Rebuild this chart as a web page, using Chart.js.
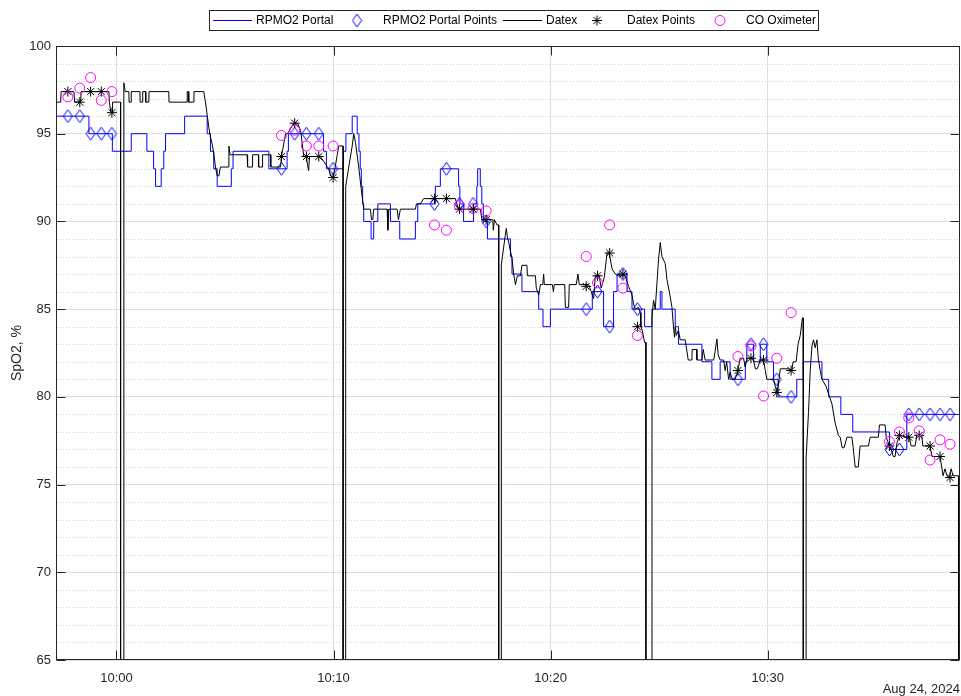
<!DOCTYPE html>
<html lang="en">
<head>
<meta charset="utf-8"/>
<title>SpO2 comparison</title>
<script src="https://cdn.jsdelivr.net/npm/chart.js"></script>
<style>
    body { margin: 0; background: #ffffff; }
    #spo2Chart { display: block; }
</style>
</head>
<body>
<canvas id="spo2Chart" width="961" height="696"></canvas>
<script>
// time axis is minutes after 10:00
const X_MIN = -2.74;
const X_MAX = 38.86;
const xTickValues = [0, 10, 20, 30];
const xTickLabels = ['10:00', '10:10', '10:20', '10:30'];
const yTickValues = [65, 70, 75, 80, 85, 90, 95, 100];

// RPMO2 portal readings (stairs: value starts at that minute)
const portalTime = [-2.74, -1.27, -0.19, 0.68, 1.40, 1.71, 1.80, 2.06, 2.18, 2.26, 3.14, 4.18, 4.33, 4.48, 4.64,
    5.29, 5.37, 7.02, 7.86, 7.92, 9.54, 9.67, 10.46, 10.57, 10.86, 11.09, 11.17, 11.23, 11.28, 11.34, 11.39,
    11.73, 11.85, 12.04, 12.62, 13.05, 13.77, 13.88, 14.69, 14.92, 15.76, 15.82, 15.99, 16.45, 16.60, 16.64,
    16.76, 16.83, 16.90, 17.09, 18.15, 18.22, 18.68, 19.45, 19.65, 19.99, 21.92, 22.44, 22.90, 23.06, 23.52,
    23.75, 24.33, 24.67, 25.05, 25.13, 25.74, 25.89, 26.97, 27.43, 27.81, 28.27, 28.97, 29.04, 29.35, 29.66,
    29.96, 30.27, 30.48, 31.34, 31.64, 32.50, 32.81, 33.37, 33.92, 35.61, 36.41, 38.86];
const portalSpO2 = [96, 95, 94, 95, 94, 93, 92, 93, 94, 95, 96, 95, 94, 93, 92,
    93, 94, 93, 94, 95, 94, 93, 94, 95, 96, 95, 94, 93, 92, 91, 90,
    89, 90, 91, 90, 89, 90, 91, 92, 93, 92, 91, 90, 91, 92, 93,
    92, 91, 90, 89, 88, 87, 86, 85, 84, 85, 86, 84, 86, 87, 86,
    85, 84, 85, 86, 85, 84, 83, 82, 81, 82, 81, 82, 83, 82, 83,
    82, 81, 80, 81, 82, 81, 80, 79, 78, 77, 79, 79];

// Datex monitor trace (0 = signal dropout)
const datexTime = [-2.74, -2.57, -2.55, -1.96, -1.93, -1.65, -1.63, -0.35, -0.33, -0.25, -0.20, -0.18, 0.19, 0.19,
    0.34, 0.34, 0.40, 0.57, 0.58, 0.67, 0.68, 1.08, 1.09, 1.20, 1.21, 1.34, 1.35, 1.49, 1.50, 2.41, 2.42,
    3.25, 3.26, 3.32, 3.33, 3.56, 3.57, 4.02, 4.10, 4.25, 4.33, 4.41, 4.48, 4.56, 4.64, 4.72, 4.79, 5.14,
    5.18, 5.23, 6.02, 6.04, 6.25, 6.27, 6.54, 6.55, 6.71, 6.73, 7.10, 7.11, 7.56, 7.60, 7.79, 7.88, 8.17,
    8.34, 8.48, 8.63, 8.75, 8.80, 8.85, 8.89, 9.32, 9.39, 9.78, 9.86, 9.98, 10.09, 10.17, 10.24, 10.44,
    10.44, 10.56, 10.56, 10.70, 10.86, 10.93, 11.01, 11.16, 11.27, 11.39, 11.70, 11.75, 11.81, 11.85, 12.07,
    12.47, 12.50, 12.55, 12.93, 12.99, 13.08, 13.77, 13.82, 14.00, 14.15, 15.61, 15.76, 16.76, 16.84, 17.34,
    17.36, 17.41, 17.53, 17.61, 17.61, 17.73, 17.73, 17.78, 17.91, 17.96, 18.01, 18.07, 18.15, 18.22, 18.30,
    18.38, 18.47, 18.61, 18.68, 18.91, 18.93, 19.30, 19.34, 19.45, 19.53, 19.64, 19.68, 19.71, 20.08, 20.13,
    20.17, 20.65, 20.68, 20.83, 20.86, 21.18, 21.26, 21.32, 21.75, 21.87, 21.98, 22.06, 22.24, 22.33, 22.47,
    22.60, 22.70, 22.83, 22.98, 23.12, 23.44, 23.59, 23.75, 23.82, 23.90, 24.05, 24.13, 24.16, 24.22, 24.33,
    24.39, 24.39, 24.67, 24.67, 24.74, 24.82, 24.90, 24.97, 25.05, 25.13, 25.28, 25.36, 25.51, 25.59, 25.66,
    25.71, 25.74, 25.79, 25.89, 25.97, 26.20, 26.34, 26.51, 26.52, 26.73, 26.74, 26.97, 27.03, 27.12, 27.51,
    27.58, 27.66, 27.72, 27.81, 27.97, 28.04, 28.11, 28.20, 28.27, 28.37, 28.50, 28.63, 28.73, 28.89, 28.96,
    29.06, 29.33, 29.43, 29.52, 29.66, 29.81, 29.89, 29.96, 30.27, 30.35, 30.42, 30.48, 30.58, 30.94, 31.11,
    31.17, 31.31, 31.40, 31.50, 31.60, 31.64, 31.64, 31.77, 31.77, 31.88, 31.96, 32.04, 32.11, 32.19, 32.27,
    32.33, 32.42, 32.50, 32.69, 32.96, 33.11, 33.26, 33.34, 33.43, 33.52, 33.65, 33.88, 33.94, 34.03, 34.17,
    34.26, 34.64, 34.72, 35.10, 35.15, 35.41, 35.46, 35.61, 35.69, 35.79, 35.87, 35.96, 36.07, 36.41, 36.52,
    36.61, 36.79, 36.87, 37.10, 37.15, 37.48, 37.57, 37.94, 38.08, 38.17, 38.26, 38.37, 38.45, 38.54, 38.79,
    38.80];
const datexSpO2 = [96.8, 96.8, 97.4, 97.4, 96.8, 96.8, 97.4, 97.4, 96.8, 96.2, 96.2, 96.8, 96.8, 0,
    0, 97.9, 97.4, 97.4, 96.8, 96.8, 97.4, 97.4, 96.8, 96.8, 97.4, 97.4, 96.8, 96.8, 97.4, 97.4, 96.8,
    96.8, 97.4, 97.4, 96.8, 96.8, 97.4, 97.4, 96.8, 95.4, 94.8, 94.4, 93.9, 93.1, 92.6, 92.6, 93.1, 93.1,
    94.3, 93.8, 93.8, 93.1, 93.1, 93.8, 93.8, 93.1, 93.1, 93.8, 93.8, 93.1, 93.1, 93.7, 95.0, 95.0, 95.6,
    95.6, 95.2, 93.7, 93.7, 93.2, 92.9, 93.7, 93.7, 93.7, 93.0, 92.6, 92.5, 93.2, 93.8, 94.3, 94.3,
    0, 0, 92.0, 93.1, 94.3, 95.0, 94.5, 93.1, 91.9, 90.7, 90.7, 90.1, 90.1, 90.7, 90.7,
    90.7, 89.5, 90.7, 90.7, 90.1, 90.7, 90.7, 91.0, 91.0, 91.3, 91.3, 90.7, 90.7, 90.1, 90.1,
    89.5, 90.1, 89.8, 89.8, 0, 0, 87.5, 88.0, 89.2, 89.6, 89.1, 88.8, 88.3, 87.9, 87.0,
    86.4, 86.9, 86.9, 87.5, 87.5, 86.9, 86.9, 86.2, 85.8, 86.4, 86.4, 87.0, 86.4, 86.4, 86.0,
    86.4, 86.4, 85.1, 85.1, 86.4, 86.4, 87.0, 86.4, 86.4, 86.0, 85.6, 86.9, 86.9, 86.2, 86.8,
    88.2, 88.2, 87.3, 87.0, 86.9, 86.9, 86.3, 85.8, 85.3, 85.0, 85.1, 84.8, 84.0, 83.8, 83.1,
    83.1, 0, 0, 84.5, 85.5, 85.0, 86.5, 87.8, 88.8, 88.0, 87.6, 86.7, 85.7, 85.1, 84.0,
    83.4, 84.0, 83.5, 83.8, 83.25, 83.25, 82.1, 82.1, 82.7, 82.7, 82.1, 82.1, 82.7, 82.1, 82.1,
    82.6, 83.3, 82.4, 82.1, 82.1, 81.5, 82.0, 81.0, 81.4, 81.0, 81.0, 81.5, 82.2, 82.2, 81.7,
    82.2, 82.2, 81.6, 81.6, 82.1, 82.1, 81.5, 81.0, 81.0, 80.6, 80.25, 80.6, 81.6, 81.6, 81.5,
    82.0, 82.0, 83.0, 83.5, 84.5, 84.5, 0, 0, 76.5, 79.1, 81.5, 82.9, 83.25, 82.8, 83.25,
    82.2, 81.5, 81.0, 80.6, 79.6, 78.5, 77.8, 77.7, 77.1, 77.1, 77.7, 77.7, 77.1, 76.0, 76.0,
    77.2, 77.2, 77.7, 77.7, 78.4, 78.4, 77.7, 77.2, 77.0, 76.6, 76.6, 77.4, 77.8, 77.7, 77.7,
    77.2, 77.2, 77.8, 77.8, 77.2, 77.2, 76.6, 76.6, 75.5, 75.9, 75.5, 75.4, 75.9, 75.5, 75.5,
    0];

// spot readings taken at the same moments
const sampleTime = [-2.24, -1.69, -1.19, -0.70, -0.21, 7.60, 8.21, 8.75, 9.32, 9.98,
    14.65, 15.20, 15.80, 16.43, 17.03, 21.64, 22.16, 22.72, 23.33, 24.00,
    28.63, 29.23, 29.81, 30.42, 31.08, 35.61, 36.07, 36.50, 36.98, 37.48, 37.94, 38.40];
const portalPoints = [96, 96, 95, 95, 95, 93, 95, 95, 95, 93,
    91, 93, 91, 91, 90, 85, 86, 84, 87, 85,
    81, 83, 83, 81, 80, 77, 77, 79, 79, 79, 79, 79];
const datexPoints = [97.4, 96.8, 97.4, 97.4, 96.2, 93.7, 95.6, 93.7, 93.7, 92.5,
    91.3, 91.3, 90.7, 90.7, 90.1, 86.3, 86.9, 88.2, 87.0, 84.0,
    81.5, 82.2, 82.1, 80.25, 81.5, 77.2, 77.8, 77.7, 77.8, 77.2, 76.6, 75.4];
const coOximeter = [97.1, 97.6, 98.2, 96.9, 97.4, 94.9, 95.2, 94.3, 94.3, 94.3,
    89.8, 89.5, 90.9, 90.75, 90.6, 88.0, 86.5, 89.8, 86.2, 83.5,
    82.3, 82.9, 80.05, 82.2, 84.8, 77.45, 78.0, 78.8, 78.06, 76.4, 77.55, 77.3];

const FONT = "'Liberation Sans', Arial, sans-serif";
const AXIS_COLOR = '#262626';

function pairs(xs, ys) {
    return xs.map((x, i) => ({ x: x, y: ys[i] }));
}

// tall open diamond like the MATLAB 'd' marker
function diamondMarker(color) {
    const c = document.createElement('canvas');
    c.width = 11;
    c.height = 15;
    const g = c.getContext('2d');
    g.strokeStyle = color;
    g.lineWidth = 1;
    g.beginPath();
    g.moveTo(5.5, 1);
    g.lineTo(10, 7.5);
    g.lineTo(5.5, 14);
    g.lineTo(1, 7.5);
    g.closePath();
    g.stroke();
    return c;
}

// minor dotted grid, inward ticks and the axes box
const axesFrame = {
    id: 'axesFrame',
    beforeDatasetsDraw(chart) {
        const { ctx, chartArea: a, scales: { y } } = chart;
        ctx.save();
        ctx.strokeStyle = '#d2d2d2';
        ctx.lineWidth = 1;
        ctx.setLineDash([1, 2]);
        for (let v = 66; v < 100; v++) {
            if (v % 5 === 0) continue;
            const py = Math.round(y.getPixelForValue(v)) + 0.5;
            ctx.beginPath();
            ctx.moveTo(a.left, py);
            ctx.lineTo(a.right, py);
            ctx.stroke();
        }
        ctx.restore();
    },
    afterDatasetsDraw(chart) {
        const { ctx, chartArea: a, scales: { x, y } } = chart;
        const L = Math.round(a.left) - 0.5, R = Math.round(a.right) - 0.5;
        const T = Math.round(a.top) + 0.5, B = Math.round(a.bottom) - 0.5;
        const tick = 9;
        ctx.save();
        ctx.strokeStyle = AXIS_COLOR;
        ctx.lineWidth = 1;
        ctx.beginPath();
        xTickValues.forEach(v => {
            const px = Math.round(x.getPixelForValue(v)) + 0.5;
            ctx.moveTo(px, B); ctx.lineTo(px, B - tick);
            ctx.moveTo(px, T); ctx.lineTo(px, T + tick);
        });
        yTickValues.forEach(v => {
            const py = Math.round(y.getPixelForValue(v)) + 0.5;
            ctx.moveTo(L, py); ctx.lineTo(L + tick, py);
            ctx.moveTo(R, py); ctx.lineTo(R - tick, py);
        });
        ctx.stroke();
        ctx.strokeRect(L, T, R - L, B - T);
        ctx.restore();
    }
};

// boxed single-row legend above the axes
const legendRow = {
    id: 'legendRow',
    afterDraw(chart) {
        const ctx = chart.ctx;
        const textX = [256, 383, 546, 627, 746];
        const sampleX = [232.5, 357, 522.5, 597, 720];
        const cy = 20.5;
        ctx.save();
        ctx.fillStyle = '#ffffff';
        ctx.fillRect(210, 11, 608, 19);
        ctx.strokeStyle = AXIS_COLOR;
        ctx.lineWidth = 1;
        ctx.strokeRect(209.5, 10.5, 609, 20);
        chart.data.datasets.forEach((ds, i) => {
            if (ds.showLine === false) {
                ctx.strokeStyle = ds.pointBorderColor;
                ctx.fillStyle = 'rgba(0,0,0,0)';
                ctx.lineWidth = ds.pointBorderWidth;
                Chart.helpers.drawPoint(ctx, {
                    pointStyle: ds.pointStyle, radius: ds.pointRadius,
                    borderWidth: ds.pointBorderWidth, rotation: 0
                }, sampleX[i], cy);
            } else {
                ctx.strokeStyle = ds.borderColor;
                ctx.lineWidth = ds.borderWidth;
                ctx.beginPath();
                ctx.moveTo(sampleX[i] - 19.5, cy);
                ctx.lineTo(sampleX[i] + 19.5, cy);
                ctx.stroke();
            }
            ctx.fillStyle = '#000000';
            ctx.font = '12px ' + FONT;
            ctx.textBaseline = 'middle';
            ctx.textAlign = 'left';
            ctx.fillText(ds.label, textX[i], cy);
        });
        ctx.restore();
    }
};

const ctx = document.getElementById('spo2Chart').getContext('2d');
const spo2Chart = new Chart(ctx, {
    type: 'line',
    data: {
        datasets: [
            {
                label: 'RPMO2 Portal',
                data: pairs(portalTime, portalSpO2),
                stepped: 'before',
                borderColor: '#0000ff',
                borderWidth: 1,
                pointRadius: 0,
                order: 5
            },
            {
                label: 'RPMO2 Portal Points',
                data: pairs(sampleTime, portalPoints),
                showLine: false,
                pointStyle: diamondMarker('#0000ff'),
                pointRadius: 5,
                pointBorderColor: '#0000ff',
                pointBackgroundColor: 'rgba(0,0,0,0)',
                pointBorderWidth: 1,
                order: 4
            },
            {
                label: 'Datex',
                data: pairs(datexTime, datexSpO2),
                borderColor: '#000000',
                borderWidth: 1,
                pointRadius: 0,
                order: 3
            },
            {
                label: 'Datex Points',
                data: pairs(sampleTime, datexPoints),
                showLine: false,
                pointStyle: 'star',
                pointRadius: 5,
                pointBorderColor: '#000000',
                pointBackgroundColor: 'rgba(0,0,0,0)',
                pointBorderWidth: 1,
                order: 2
            },
            {
                label: 'CO Oximeter',
                data: pairs(sampleTime, coOximeter),
                showLine: false,
                pointStyle: 'circle',
                pointRadius: 5,
                pointBorderColor: '#ff00ff',
                pointBackgroundColor: 'rgba(0,0,0,0)',
                pointBorderWidth: 1,
                order: 1
            }
        ]
    },
    options: {
        responsive: false,
        animation: false,
        events: [],
        layout: { autoPadding: false, padding: { top: 46, right: 1, left: 0, bottom: 0 } },
        plugins: {
            legend: { display: false },
            tooltip: { enabled: false }
        },
        scales: {
            x: {
                type: 'linear',
                min: X_MIN,
                max: X_MAX,
                afterBuildTicks: s => { s.ticks = xTickValues.map(v => ({ value: v })); },
                afterFit: s => { s.height = 36; s.paddingLeft = 0; s.paddingRight = 0; },
                ticks: {
                    autoSkip: false,
                    maxRotation: 0,
                    padding: 11,
                    color: AXIS_COLOR,
                    font: { family: FONT, size: 13 },
                    callback: (v, i) => xTickLabels[i]
                },
                grid: { color: '#dedede', drawTicks: false },
                border: { display: false },
                title: {
                    display: true,
                    text: 'Aug 24, 2024',
                    align: 'end',
                    color: AXIS_COLOR,
                    font: { family: FONT, size: 13 },
                    padding: { top: 0, bottom: -1.5 }
                }
            },
            y: {
                min: 65,
                max: 100,
                afterBuildTicks: s => { s.ticks = yTickValues.map(v => ({ value: v })); },
                afterFit: s => { s.width = 57; s.paddingTop = 0; s.paddingBottom = 0; },
                ticks: {
                    padding: 6,
                    color: AXIS_COLOR,
                    font: { family: FONT, size: 13 }
                },
                grid: { color: '#dedede', drawTicks: false },
                border: { display: false },
                title: {
                    display: true,
                    text: 'SpO2, %',
                    color: AXIS_COLOR,
                    font: { family: FONT, size: 14 },
                    padding: { top: 9, bottom: 0 }
                }
            }
        }
    },
    plugins: [axesFrame, legendRow]
});
</script>
</body>
</html>
